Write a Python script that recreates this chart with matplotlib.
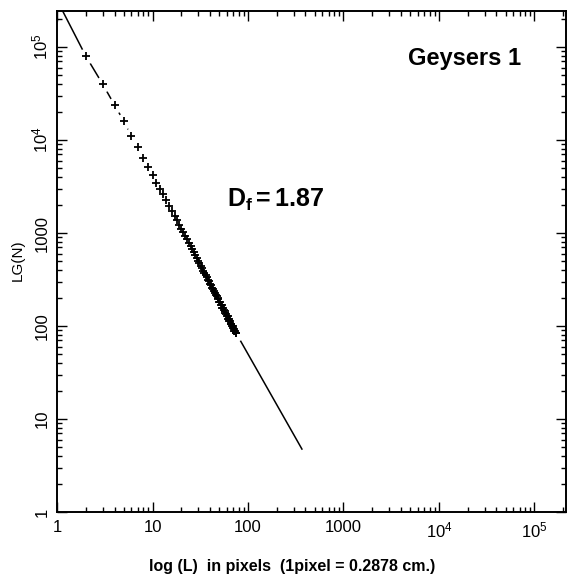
import numpy as np
import matplotlib.pyplot as plt

plt.rcParams['font.family'] = ['Liberation Sans', 'DejaVu Sans']
plt.rcParams['mathtext.fontset'] = 'custom'
plt.rcParams['mathtext.rm'] = 'Liberation Sans'
plt.rcParams['mathtext.it'] = 'Liberation Sans:italic'
plt.rcParams['mathtext.bf'] = 'Liberation Sans:bold'

# --- data ---
L = list(range(2, 76))
N = [80000, 40000, 23800, 16000, 11000, 8400, 6400, 5100, 4200, 3450, 3000, 2600,
     2250, 1950, 1740, 1520, 1380, 1230, 1110, 1020, 920, 855, 775, 725,
     665, 625, 575, 540, 500, 475, 440, 420, 392, 375, 350, 337,
     316, 303, 285, 276, 259, 250, 236, 229, 216, 210, 199, 194,
     183, 179, 170, 167, 158, 155, 147, 145, 137, 135, 128, 127,
     120, 119, 113, 112, 106, 105, 100, 99, 94, 93, 89, 88, 85, 84]

# line extended past the data at both ends
line_start_L, line_start_N = 1.0, 3.2e5
line_end_L, line_end_N = 367, 4.75

x_ticks = [1, 10, 100, 1000, 1e4, 1e5]
x_labels = ['1', '10', '100', '1000', r'$10^4$', r'$10^5$']
y_ticks = [1, 10, 100, 1000, 1e4, 1e5]
y_labels = ['1', '10', '100', '1000', r'$10^4$', r'$10^5$']

fig = plt.figure(figsize=(5.68, 5.78), dpi=100)
ax = fig.add_axes([0.1004, 0.1142, 0.8961, 0.8668])

line_L = [line_start_L] + L + [line_end_L]
line_N = [line_start_N] + N + [line_end_N]
ax.plot(line_L, line_N, color='black', linewidth=1.1, zorder=1)

# white halo around each symbol breaks the line like the original plot
ax.plot(L, N, 'o', ms=11.5, mfc='white', mec='none', zorder=2)
ax.plot(L, N, '+', ms=6, mew=1.3, color='black', zorder=3)

ax.set_xscale('log')
ax.set_yscale('log')
ax.set_xlim(1, 2.14e5)
ax.set_ylim(1, 2.44e5)

ax.set_xticks(x_ticks)
ax.set_xticklabels(x_labels, fontsize=12)
ax.set_yticks(y_ticks)
ax.set_yticklabels(y_labels, fontsize=12, rotation=90, va='center')

ax.tick_params(which='both', direction='in', top=True, right=True, width=1)
ax.tick_params(which='major', length=7)
ax.tick_params(which='minor', length=3.5)
ax.tick_params(axis='x', which='major', pad=6)
ax.tick_params(axis='y', which='major', pad=5)

for sp in ax.spines.values():
    sp.set_linewidth(1.4)

ax.text(0.334, 0.623, r'$\mathbf{D_f}$$\mathbf{=1.87}$', transform=ax.transAxes,
        fontsize=18, fontweight='bold', va='center')
ax.text(0.80, 0.905, 'Geysers 1', transform=ax.transAxes,
        fontsize=17, fontweight='bold', va='center', ha='center')

fig.text(292 / 568, 1 - 567 / 578, 'log (L)  in pixels  (1pixel = 0.2878 cm.)',
         fontsize=11.5, fontweight='bold', ha='center', va='center')
fig.text(18 / 568, 1 - 260 / 578, 'LG(N)', fontsize=11, rotation=90,
         ha='center', va='center')

fig.savefig('out.png', dpi=100)
